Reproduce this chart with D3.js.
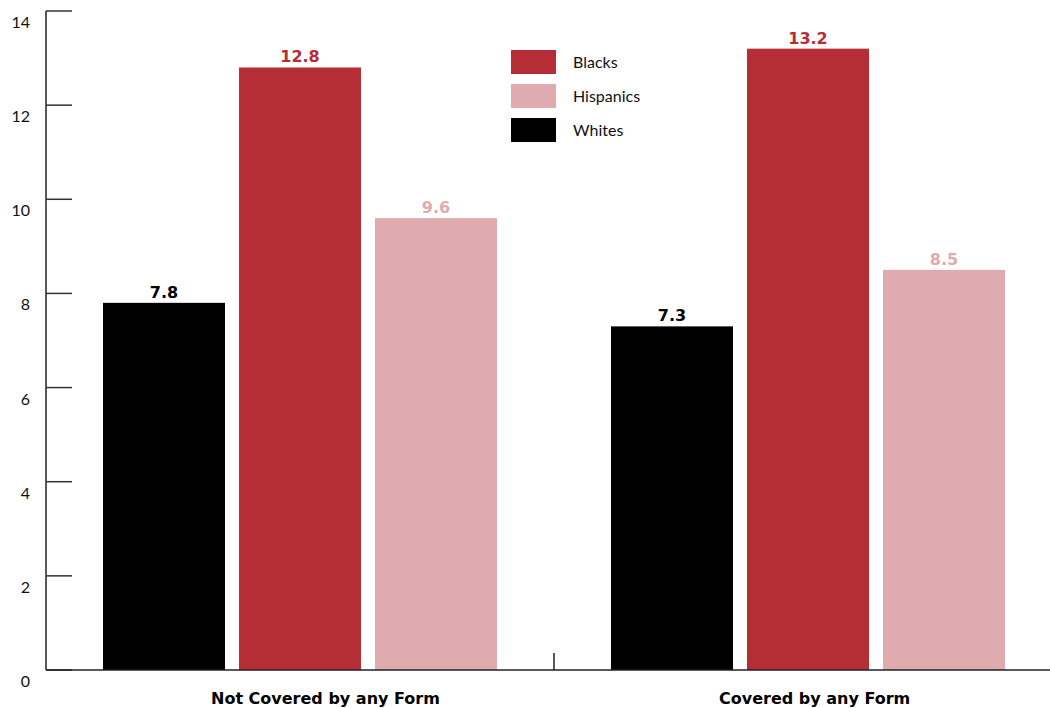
<!DOCTYPE html>
<html>
<head>
<meta charset="utf-8">
<script src="https://cdn.jsdelivr.net/npm/d3@7/dist/d3.min.js"></script>
<style>
  html, body { margin: 0; padding: 0; background: #fff; }
  svg { display: block; }
  text { font-family: "Lato", "DejaVu Sans", sans-serif; }
  text.bold { font-family: "DejaVu Sans", sans-serif; font-weight: bold; }
</style>
</head>
<body>
<svg id="chart" width="1050" height="708"></svg>
<script>
// Categories and series
const categories = ["Not Covered by any Form", "Covered by any Form"];
const seriesNames = ["Whites", "Blacks", "Hispanics"];
const whites = [7.8, 7.3];
const blacks = [12.8, 13.2];
const hispanics = [9.6, 8.5];
const yTicks = [0, 2, 4, 6, 8, 10, 12, 14];
const legendOrder = ["Blacks", "Hispanics", "Whites"];

const colors = { Whites: "#000000", Blacks: "#b52e35", Hispanics: "#e0abae" };
const seriesValues = { Whites: whites, Blacks: blacks, Hispanics: hispanics };

const svg = d3.select("#chart");
const plotLeft = 46, plotRight = 1062, plotTop = 11, plotBottom = 670;

const x0 = d3.scaleBand().domain(categories).range([plotLeft, plotRight]).padding(0);
const x1 = d3.scaleBand().domain(seriesNames)
  .range([57, x0.bandwidth() - 57]).paddingInner(0.103);
const y = d3.scaleLinear().domain([0, 14]).range([plotBottom, plotTop]);

// Bars with value labels above them
const groups = svg.append("g").selectAll("g")
  .data(categories).join("g")
  .attr("transform", d => `translate(${x0(d)},0)`);

groups.each(function(cat, i) {
  const g = d3.select(this);
  const rows = seriesNames.map(s => ({ s, v: seriesValues[s][i] }));
  g.selectAll("rect").data(rows).join("rect")
    .attr("x", d => x1(d.s))
    .attr("y", d => y(d.v))
    .attr("width", x1.bandwidth())
    .attr("height", d => y(0) - y(d.v))
    .attr("fill", d => colors[d.s]);
  g.selectAll("text.val").data(rows).join("text")
    .attr("class", "val bold")
    .attr("x", d => x1(d.s) + x1.bandwidth() / 2)
    .attr("y", d => y(d.v) - 5)
    .attr("text-anchor", "middle")
    .attr("font-size", 16)
    .attr("fill", d => colors[d.s])
    .text(d => d.v.toFixed(1));
});

// Y axis
const yAxis = svg.append("g").attr("transform", `translate(${plotLeft},0)`);
yAxis.append("line")
  .attr("x1", 0).attr("x2", 0).attr("y1", plotTop).attr("y2", plotBottom)
  .attr("stroke", "#222").attr("stroke-width", 1.5);
yAxis.selectAll("line.tick").data(yTicks).join("line")
  .attr("class", "tick")
  .attr("x1", 0).attr("x2", 26)
  .attr("y1", d => y(d)).attr("y2", d => y(d))
  .attr("stroke", "#333").attr("stroke-width", 1.5);
yAxis.selectAll("text").data(yTicks).join("text")
  .attr("x", -16)
  .attr("y", d => y(d) + 17)
  .attr("text-anchor", "end")
  .attr("font-size", 16)
  .attr("fill", "#111")
  .text(d => d);

// X axis
svg.append("line")
  .attr("x1", plotLeft).attr("x2", 1050).attr("y1", plotBottom).attr("y2", plotBottom)
  .attr("stroke", "#222").attr("stroke-width", 1.5);
svg.append("line")
  .attr("x1", x0(categories[1])).attr("x2", x0(categories[1]))
  .attr("y1", plotBottom - 17).attr("y2", plotBottom)
  .attr("stroke", "#222").attr("stroke-width", 1.5);
svg.append("g").selectAll("text").data(categories).join("text")
  .attr("class", "bold")
  .attr("x", d => x0(d) + 165)
  .attr("y", 704)
  .attr("text-anchor", "start")
  .attr("font-size", 16)
  .attr("fill", "#000")
  .text(d => d);

// Legend
const legend = svg.append("g").attr("transform", "translate(511,50)");
const li = legend.selectAll("g").data(legendOrder).join("g")
  .attr("transform", (d, i) => `translate(0,${i * 34})`);
li.append("rect").attr("width", 45).attr("height", 24).attr("fill", d => colors[d]);
li.append("text").attr("x", 62).attr("y", 18)
  .attr("font-size", 16).attr("fill", "#111").text(d => d);
</script>
</body>
</html>
